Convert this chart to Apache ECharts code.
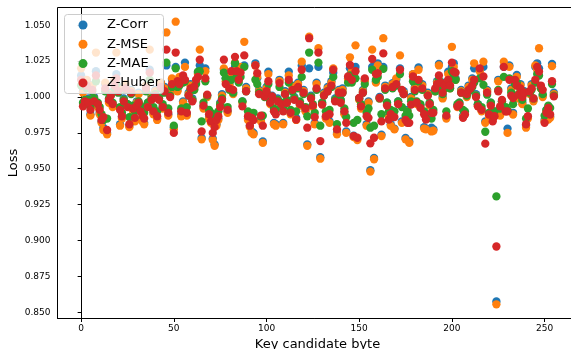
<!DOCTYPE html>
<html>
<head>
<meta charset="utf-8">
<script src="https://cdn.jsdelivr.net/npm/echarts@6/dist/echarts.min.js"></script>
<style>
  html, body { margin: 0; padding: 0; background: #ffffff; }
  #chart { width: 571px; height: 349px; }
</style>
</head>
<body>
<div id="chart"></div>
<script>
// Loss of each key-candidate byte (0..255) under four distinguishers
const keyBytes = Array.from({ length: 256 }, (_, i) => i);

const zCorr = [
  1.015, 1.004, 0.996, 1.011, 0.999, 0.988, 1.008, 1.000, 1.018, 0.994,
  0.989, 0.983, 0.9786, 1.009, 0.975, 0.997, 1.003, 0.994, 1.011, 1.016,
  1.007, 0.981, 0.986, 0.999, 1.009, 0.995, 0.980, 1.005, 0.991, 0.984,
  0.997, 1.003, 0.992, 0.984, 0.982, 1.008, 0.996, 1.019, 1.001, 0.989,
  1.005, 0.985, 1.000, 1.010, 0.993, 1.007, 1.022, 0.988, 1.003, 1.012,
  0.979, 1.021, 1.005, 1.013, 0.988, 0.997, 1.024, 0.988, 1.003, 1.009,
  0.999, 1.006, 1.011, 1.017, 1.022, 0.9715, 0.993, 1.020, 1.001, 0.986,
  0.983, 0.971, 0.967, 0.981, 0.985, 0.996, 1.002, 1.019, 1.013, 0.990,
  1.009, 1.016, 1.003, 1.021, 1.019, 1.013, 1.020, 0.997, 1.022, 1.007,
  0.985, 0.980, 0.976, 0.975, 1.0235, 1.013, 1.005, 0.984, 0.969, 1.002,
  1.007, 1.0177, 0.996, 1.001, 0.982, 0.981, 0.999, 1.012, 0.994, 0.982,
  1.004, 0.997, 1.0177, 0.989, 1.008, 1.000, 0.9855, 1.010, 0.995, 1.022,
  1.005, 0.991, 0.967, 1.020, 1.001, 0.994, 0.982, 1.010, 1.021, 0.958,
  0.996, 1.003, 0.986, 1.007, 0.983, 1.011, 1.017, 0.999, 0.975, 1.005,
  0.998, 1.006, 0.989, 0.976, 1.013, 1.020, 1.016, 0.973, 1.021, 0.971,
  0.999, 0.993, 1.005, 1.012, 0.981, 0.997, 0.949, 1.021, 0.9575, 1.011,
  1.0235, 1.000, 0.9738, 1.021, 1.008, 0.996, 0.987, 0.981, 1.0097, 0.978,
  1.012, 0.997, 1.020, 0.983, 1.004, 0.9715, 0.991, 0.969, 1.000, 1.016,
  1.007, 0.996, 1.0207, 0.994, 1.009, 0.979, 0.978, 1.003, 0.995, 0.9786,
  0.9775, 1.005, 1.011, 1.023, 1.008, 1.000, 1.010, 0.986, 1.0177, 1.007,
  1.021, 1.0235, 1.013, 0.994, 0.996, 1.005, 0.987, 0.989, 1.001, 1.008,
  1.008, 1.013, 1.020, 1.002, 0.995, 1.019, 0.991, 1.021, 0.983, 1.005,
  0.987, 0.996, 0.985, 0.990, 0.8575, 1.012, 0.988, 0.997, 1.021, 0.991,
  0.978, 1.022, 1.006, 0.989, 1.011, 1.0154, 1.000, 1.009, 0.996, 1.004,
  0.980, 0.986, 1.003, 1.009, 0.998, 1.021, 1.0235, 1.020, 1.007, 1.001,
  0.984, 0.991, 0.985, 0.9865, 1.023, 1.003
];

const zMse = [
  1.020, 1.003, 0.995, 1.012, 0.998, 0.987, 1.008, 0.999, 1.031, 0.993,
  0.988, 0.982, 0.977, 1.010, 0.974, 0.996, 1.002, 0.993, 1.012, 1.031,
  1.006, 0.980, 0.985, 0.998, 1.009, 0.994, 0.979, 1.004, 0.990, 0.983,
  0.996, 1.002, 0.991, 0.983, 0.981, 1.008, 0.995, 1.033, 1.000, 0.988,
  1.004, 0.984, 0.999, 1.010, 0.992, 1.006, 1.045, 0.987, 1.002, 1.013,
  0.9775, 1.0525, 1.004, 1.014, 0.9866, 0.996, 1.021, 0.987, 1.002, 1.008,
  0.998, 1.005, 1.010, 1.016, 1.033, 0.9705, 0.992, 1.018, 1.000, 0.985,
  0.982, 0.970, 0.966, 0.980, 0.984, 0.995, 1.001, 1.020, 1.011, 0.989,
  1.008, 1.015, 1.002, 1.024, 1.019, 1.012, 1.021, 0.996, 1.0385, 1.006,
  0.984, 0.979, 0.975, 0.974, 1.022, 1.014, 1.004, 0.983, 0.968, 1.001,
  1.006, 1.016, 0.995, 1.000, 0.981, 0.980, 0.998, 1.011, 0.993, 0.981,
  1.003, 0.996, 1.015, 0.988, 1.007, 0.999, 0.984, 1.009, 0.994, 1.0246,
  1.004, 0.990, 0.966, 1.042, 1.000, 0.993, 0.981, 1.009, 1.034, 0.957,
  0.995, 1.002, 0.985, 1.006, 0.982, 1.010, 1.020, 0.998, 0.974, 1.004,
  0.997, 1.005, 0.988, 0.975, 1.012, 1.0277, 1.0177, 0.972, 1.036, 0.970,
  0.998, 0.992, 1.004, 1.011, 0.980, 0.996, 0.948, 1.033, 0.9566, 1.010,
  1.022, 0.999, 0.9728, 1.041, 1.007, 0.995, 0.986, 0.980, 1.009, 0.9774,
  1.013, 0.996, 1.029, 0.982, 1.003, 0.9705, 0.990, 0.968, 0.999, 1.016,
  1.006, 0.995, 1.019, 0.993, 1.008, 0.978, 0.9774, 1.002, 0.994, 0.976,
  0.9765, 1.004, 1.010, 1.022, 1.007, 0.999, 1.009, 0.985, 1.016, 1.006,
  1.035, 1.021, 1.012, 0.993, 0.995, 1.004, 0.986, 0.988, 1.000, 1.007,
  1.007, 1.012, 1.0235, 1.001, 0.994, 1.018, 0.990, 1.0246, 0.982, 1.004,
  0.986, 0.995, 0.984, 0.989, 0.8555, 1.011, 0.987, 0.996, 1.0246, 0.990,
  0.975, 1.021, 1.005, 0.9878, 1.010, 1.014, 0.999, 1.008, 0.995, 1.003,
  0.9786, 0.985, 1.002, 1.008, 0.997, 1.022, 1.019, 1.034, 1.006, 1.000,
  0.983, 0.990, 0.9843, 0.9855, 1.0215, 1.002
];

const zMae = [
  1.008, 0.996, 0.998, 1.006, 0.998, 0.993, 1.004, 0.999, 1.011, 0.996,
  0.993, 0.988, 0.984, 1.004, 0.985, 0.999, 1.001, 0.996, 1.006, 1.009,
  1.003, 0.993, 0.989, 0.998, 1.005, 0.995, 0.986, 1.002, 0.994, 0.990,
  0.992, 0.997, 0.994, 0.990, 0.989, 1.004, 0.996, 1.012, 0.999, 0.993,
  1.002, 0.990, 0.999, 1.006, 0.995, 1.003, 1.024, 0.992, 1.001, 1.007,
  0.980, 1.020, 1.007, 1.008, 0.992, 1.010, 1.011, 0.993, 1.001, 1.005,
  0.998, 1.005, 1.009, 1.0177, 1.018, 0.983, 0.996, 1.011, 1.001, 0.991,
  0.989, 0.983, 0.985, 0.988, 0.990, 0.995, 0.999, 1.017, 1.013, 0.993,
  1.005, 1.012, 1.003, 1.0235, 1.015, 1.010, 1.014, 0.997, 1.021, 1.004,
  0.990, 0.987, 0.986, 0.989, 1.012, 1.009, 1.003, 0.9866, 0.987, 1.000,
  1.003, 1.009, 0.997, 1.000, 0.992, 0.991, 0.998, 1.007, 0.996, 0.993,
  1.002, 0.998, 1.010, 0.991, 1.004, 0.999, 0.990, 1.006, 0.997, 1.014,
  1.002, 0.993, 0.9866, 1.031, 1.000, 0.995, 0.989, 1.005, 1.024, 0.980,
  0.996, 1.001, 0.990, 1.004, 0.991, 1.007, 1.014, 0.998, 0.981, 1.002,
  0.998, 1.003, 0.992, 0.986, 1.010, 1.015, 1.010, 0.982, 1.013, 0.984,
  0.999, 0.995, 1.003, 1.009, 0.989, 0.992, 0.9786, 1.019, 0.980, 1.012,
  1.014, 0.999, 0.988, 1.0196, 1.005, 0.996, 0.990, 0.991, 1.006, 0.990,
  1.008, 0.997, 1.016, 0.993, 1.002, 0.987, 0.990, 0.987, 0.997, 1.011,
  1.004, 0.997, 1.011, 0.995, 1.005, 0.990, 0.9866, 1.001, 0.996, 0.985,
  0.991, 1.004, 1.007, 1.012, 1.008, 1.002, 1.006, 0.990, 1.010, 1.006,
  1.018, 1.0154, 1.012, 0.995, 0.996, 1.003, 0.991, 0.990, 1.001, 1.004,
  1.005, 1.007, 1.010, 1.001, 0.995, 1.013, 0.993, 1.0085, 0.9758, 1.0016,
  0.989, 0.996, 0.987, 0.990, 0.9307, 1.005, 0.992, 0.997, 1.014, 0.993,
  0.991, 1.013, 1.003, 0.995, 1.009, 1.010, 1.002, 1.005, 0.998, 1.003,
  0.985, 0.992, 1.003, 1.005, 0.999, 1.010, 1.016, 1.015, 1.006, 1.002,
  0.987, 0.991, 0.994, 0.9924, 1.009, 1.001
];

const zHuber = [
  1.012, 0.9935, 0.997, 1.008, 0.996, 0.991, 1.005, 0.997, 1.015, 0.995,
  0.991, 0.984, 0.986, 1.006, 0.977, 0.998, 1.001, 0.995, 1.008, 1.013,
  1.004, 0.991, 0.9866, 0.997, 1.006, 0.993, 0.981, 1.003, 0.992, 0.9855,
  0.994, 0.996, 0.990, 0.987, 0.985, 1.006, 0.993, 1.017, 0.998, 0.990,
  1.001, 0.9866, 0.998, 1.007, 0.993, 1.004, 1.033, 0.989, 1.000, 1.009,
  0.975, 1.031, 1.011, 1.009, 0.990, 1.015, 1.012, 0.989, 1.001, 1.006,
  0.997, 1.0073, 1.012, 1.014, 1.026, 0.976, 0.994, 1.013, 1.0016, 0.988,
  0.983, 0.975, 0.979, 0.984, 0.9866, 0.993, 0.998, 1.026, 1.009, 0.991,
  1.006, 1.018, 1.005, 1.028, 1.018, 1.012, 1.017, 0.9935, 1.029, 1.004,
  0.9866, 0.980, 0.9855, 0.984, 1.022, 1.0166, 1.002, 0.987, 0.980, 1.0004,
  1.004, 1.011, 0.996, 1.0004, 0.990, 0.988, 0.997, 1.0097, 0.995, 0.990,
  1.002, 0.996, 1.012, 0.989, 1.005, 0.998, 0.9843, 1.007, 0.995, 1.019,
  1.003, 0.992, 0.9786, 1.041, 0.999, 0.994, 0.986, 1.006, 1.031, 0.9693,
  0.9947, 1.001, 0.9866, 1.004, 0.988, 1.008, 1.019, 0.997, 0.9774, 1.003,
  0.996, 1.003, 0.990, 0.982, 1.0143, 1.0223, 1.012, 0.9728, 1.018, 0.9716,
  0.9993, 0.9935, 1.003, 1.013, 0.9866, 0.9855, 0.9677, 1.0265, 0.9716, 1.016,
  1.0166, 0.9993, 0.983, 1.0304, 1.006, 0.994, 0.9843, 0.988, 1.007, 0.986,
  1.009, 0.995, 1.019, 1.005, 1.002, 0.984, 0.982, 0.982, 0.9947, 1.0143,
  1.005, 0.996, 1.012, 0.9924, 1.006, 0.988, 0.9843, 1.001, 0.995, 0.989,
  0.989, 1.006, 1.009, 1.015, 1.010, 1.003, 1.008, 0.987, 1.012, 1.008,
  1.024, 1.0177, 1.017, 0.9935, 0.9947, 1.003, 0.9855, 0.9878, 1.002, 1.005,
  1.006, 1.008, 1.012, 1.000, 0.9935, 1.020, 0.991, 1.0143, 0.9675, 1.003,
  0.9878, 0.994, 0.983, 0.9866, 0.8958, 1.004, 0.9935, 0.998, 1.021, 0.990,
  0.990, 1.012, 1.001, 0.9993, 1.012, 1.008, 1.0016, 1.006, 1.000, 1.003,
  0.981, 0.9866, 1.004, 1.006, 0.999, 1.012, 1.021, 1.0177, 1.008, 1.005,
  0.982, 0.989, 0.9924, 0.9878, 1.011, 1.0004
];

const seriesNames = ['Z-Corr', 'Z-MSE', 'Z-MAE', 'Z-Huber'];
const seriesColors = ['#1f77b4', '#ff7f0e', '#2ca02c', '#d62728'];
const seriesValues = [zCorr, zMse, zMae, zHuber];

const xTicks = [0, 50, 100, 150, 200, 250];
const yTicks = [0.850, 0.875, 0.900, 0.925, 0.950, 0.975, 1.000, 1.025, 1.050];

const FONT = 'DejaVu Sans';

const chart = echarts.init(document.getElementById('chart'), null, { renderer: 'canvas' });

const series = seriesNames.map((name, s) => ({
  name: name,
  type: 'scatter',
  symbol: 'circle',
  symbolSize: 8.3,
  itemStyle: { color: seriesColors[s], opacity: 1 },
  emphasis: { disabled: true },
  data: keyBytes.map((k, i) => [k, seriesValues[s][i]])
}));

chart.setOption({
  animation: false,
  backgroundColor: '#ffffff',
  color: seriesColors,
  grid: {
    left: 57.5, top: 7.5, width: 520, height: 311,
    outerBoundsMode: 'none',
    containLabel: false,
    show: true, borderColor: '#000000', borderWidth: 1, backgroundColor: 'transparent'
  },
  // translucent frame behind the legend entries, above the points
  graphic: [{
    type: 'rect',
    zlevel: 1,
    z: 50,
    silent: true,
    shape: { x: 64.5, y: 14.5, width: 99, height: 79, r: 3 },
    style: { fill: 'rgba(255,255,255,0.8)', stroke: '#cccccc', lineWidth: 1 }
  }],
  legend: {
    orient: 'vertical',
    zlevel: 1,
    z: 100,
    left: 64, top: 14,
    padding: [1.5, 4, 1.5, 14.5],
    itemWidth: 9, itemHeight: 9, itemGap: 0.3,
    icon: 'circle',
    backgroundColor: 'transparent',
    borderWidth: 0,
    textStyle: { fontFamily: FONT, fontSize: 13, lineHeight: 19, color: '#000000', padding: [0, 0, 0, 14.5] },
    data: seriesNames,
    selectedMode: false
  },
  xAxis: {
    type: 'value',
    min: -12.75, max: 267.75,
    name: 'Key candidate byte',
    nameLocation: 'middle', nameGap: 20,
    nameMoveOverlap: false,
    nameTextStyle: { fontFamily: FONT, fontSize: 13, color: '#000000' },
    axisLine: { show: true, lineStyle: { color: '#000000', width: 1 } },
    axisTick: { show: true, length: 3.5, customValues: xTicks, lineStyle: { color: '#000000', width: 1 } },
    axisLabel: { customValues: xTicks, fontFamily: FONT, fontSize: 9, color: '#000000', margin: 6 },
    splitLine: { show: false }
  },
  yAxis: {
    type: 'value',
    min: 0.8456, max: 1.0624,
    name: 'Loss',
    nameLocation: 'middle', nameGap: 37,
    nameMoveOverlap: false,
    nameTextStyle: { fontFamily: FONT, fontSize: 13, color: '#000000' },
    axisLine: { show: true, lineStyle: { color: '#000000', width: 1 } },
    axisTick: { show: true, length: 3.5, customValues: yTicks, lineStyle: { color: '#000000', width: 1 } },
    axisLabel: {
      customValues: yTicks, fontFamily: FONT, fontSize: 9, color: '#000000', margin: 7,
      formatter: (v) => Number(v).toFixed(3)
    },
    splitLine: { show: false }
  },
  series: series
});
</script>
</body>
</html>
